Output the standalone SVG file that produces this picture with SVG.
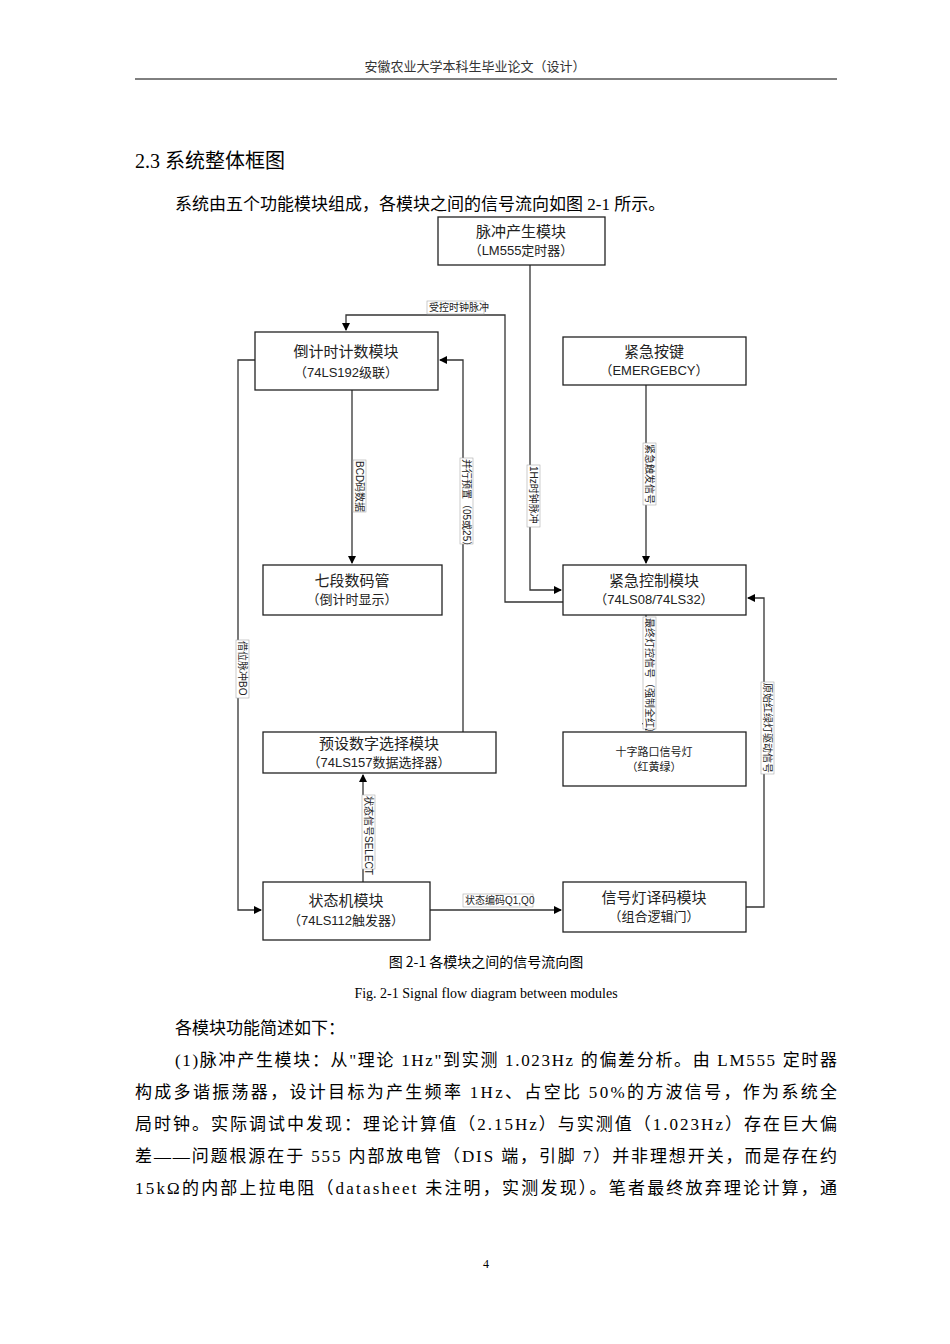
<svg xmlns="http://www.w3.org/2000/svg" width="950" height="1344" viewBox="0 0 950 1344">
<style>
.b{fill:#fff;stroke:#222;stroke-width:1.3}
.t{font-family:"Liberation Sans","Noto Sans CJK SC",sans-serif;font-size:15px;fill:#222;text-anchor:middle}
.s{font-family:"Liberation Sans","Noto Sans CJK SC",sans-serif;font-size:10px;fill:#222}
.l{fill:none;stroke:#333;stroke-width:1.3}
.lb{fill:#fff;stroke:#aaa;stroke-width:0.6}
.p{font-family:"Liberation Serif","Noto Sans CJK SC",serif;font-size:17px;fill:#000}
</style>
<defs><marker id="a" markerWidth="8" markerHeight="8" refX="7" refY="4" orient="auto" markerUnits="userSpaceOnUse"><path d="M0,0L8,4L0,8z" fill="#000"/></marker></defs>
<rect width="950" height="1344" fill="#fff"/>
<text x="475" y="71" text-anchor="middle" style="font-family:'Noto Sans CJK SC',sans-serif;font-size:13px;fill:#333">安徽农业大学本科生毕业论文（设计）</text>
<line x1="135" y1="79" x2="837" y2="79" stroke="#000" stroke-width="1"/>
<text x="135" y="168" style="font-family:'Liberation Serif','Noto Sans CJK SC',serif;font-size:20px;fill:#000">2.3 系统整体框图</text>
<text x="175" y="210" class="p">系统由五个功能模块组成，各模块之间的信号流向如图 2-1 所示。</text>
<g id="connectors">
<path class="l" d="M530,265V590H561" marker-end="url(#a)"/>
<path class="l" d="M563,602H505V315H346V330" marker-end="url(#a)"/>
<path class="l" d="M255,360H238V910H261" marker-end="url(#a)"/>
<path class="l" d="M352,390V563" marker-end="url(#a)"/>
<path class="l" d="M463,732V360H440" marker-end="url(#a)"/>
<path class="l" d="M363,882V775" marker-end="url(#a)"/>
<path class="l" d="M430,910H561" marker-end="url(#a)"/>
<path class="l" d="M646,385V563" marker-end="url(#a)"/>
<path class="l" d="M646,615V730" marker-end="url(#a)"/>
<path class="l" d="M746,907H764V598H748" marker-end="url(#a)"/>
<rect class="lb" x="427" y="301" width="57" height="13"/><text class="s" x="429" y="311">受控时钟脉冲</text>
<g transform="translate(532,465) rotate(90)"><rect class="lb" x="0" y="-8" width="62" height="13"/><text class="s" x="1" y="2">1Hz时钟脉冲</text></g>
<g transform="translate(358,460) rotate(90)"><rect class="lb" x="0" y="-8" width="52" height="13"/><text class="s" x="1" y="2">BCD码数据</text></g>
<g transform="translate(465,458) rotate(90)"><rect class="lb" x="0" y="-8" width="86" height="13"/><text class="s" x="1" y="2">并行预置（05或25）</text></g>
<g transform="translate(241,640) rotate(90)"><rect class="lb" x="0" y="-8" width="58" height="13"/><text class="s" x="1" y="2">借位脉冲BO</text></g>
<g transform="translate(367,795) rotate(90)"><rect class="lb" x="0" y="-8" width="74" height="13"/><text class="s" x="1" y="2">状态信号SELECT</text></g>
<rect class="lb" x="463" y="894" width="70" height="13"/><text class="s" x="465" y="904">状态编码Q1,Q0</text>
<g transform="translate(648,443) rotate(90)"><rect class="lb" x="0" y="-8" width="62" height="13"/><text class="s" x="1" y="2">紧急触发信号</text></g>
<g transform="translate(648,617) rotate(90)"><rect class="lb" x="0" y="-8" width="112" height="13"/><text class="s" x="1" y="2">最终灯控信号（强制全红）</text></g>
<g transform="translate(766,682) rotate(90)"><rect class="lb" x="0" y="-8" width="92" height="13"/><text class="s" x="1" y="2">原始红绿灯驱动信号</text></g>
</g>
<g id="pulse"><rect class="b" x="438" y="217" width="167" height="48"/><text class="t" x="521" y="237">脉冲产生模块</text><text class="t" x="521" y="255" style="font-size:13px">（LM555定时器）</text></g>
<g id="counter"><rect class="b" x="255" y="332" width="183" height="58"/><text class="t" x="346" y="357">倒计时计数模块</text><text class="t" x="346" y="377" style="font-size:13px">（74LS192级联）</text></g>
<g id="button"><rect class="b" x="563" y="337" width="183" height="48"/><text class="t" x="654" y="357">紧急按键</text><text class="t" x="654" y="375" style="font-size:13px">（EMERGEBCY）</text></g>
<g id="seg"><rect class="b" x="263" y="565" width="179" height="50"/><text class="t" x="352" y="586">七段数码管</text><text class="t" x="352" y="604" style="font-size:13px">（倒计时显示）</text></g>
<g id="emerg"><rect class="b" x="563" y="565" width="183" height="50"/><text class="t" x="654" y="586">紧急控制模块</text><text class="t" x="654" y="604" style="font-size:13px">（74LS08/74LS32）</text></g>
<g id="preset"><rect class="b" x="263" y="732" width="233" height="41"/><text class="t" x="379" y="749">预设数字选择模块</text><text class="t" x="379" y="767" style="font-size:13px">（74LS157数据选择器）</text></g>
<g id="lights"><rect class="b" x="563" y="732" width="183" height="54"/><text class="t" x="654" y="756" style="font-size:11px">十字路口信号灯</text><text class="t" x="654" y="771" style="font-size:11px">（红黄绿）</text></g>
<g id="fsm"><rect class="b" x="263" y="882" width="167" height="58"/><text class="t" x="346" y="906">状态机模块</text><text class="t" x="346" y="925" style="font-size:13px">（74LS112触发器）</text></g>
<g id="decoder"><rect class="b" x="563" y="882" width="183" height="50"/><text class="t" x="654" y="903">信号灯译码模块</text><text class="t" x="654" y="921" style="font-size:13px">（组合逻辑门）</text></g>
<text x="486" y="967" text-anchor="middle" style="font-family:'Noto Sans CJK SC',sans-serif;font-size:14px;fill:#000">图 2-1 各模块之间的信号流向图</text>
<text x="486" y="998" text-anchor="middle" style="font-family:'Liberation Serif',serif;font-size:14px;fill:#000">Fig. 2-1 Signal flow diagram between modules</text>
<text x="175" y="1034" class="p">各模块功能简述如下：</text>
<text x="175" y="1066" class="p" textLength="662">(1)脉冲产生模块：从"理论 1Hz"到实测 1.023Hz 的偏差分析。由 LM555 定时器</text>
<text x="135" y="1098" class="p" textLength="702">构成多谐振荡器，设计目标为产生频率 1Hz、占空比 50%的方波信号，作为系统全</text>
<text x="135" y="1130" class="p" textLength="702">局时钟。实际调试中发现：理论计算值（2.15Hz）与实测值（1.023Hz）存在巨大偏</text>
<text x="135" y="1162" class="p" textLength="702">差——问题根源在于 555 内部放电管（DIS 端，引脚 7）并非理想开关，而是存在约</text>
<text x="135" y="1194" class="p" textLength="702">15kΩ的内部上拉电阻（datasheet 未注明，实测发现）。笔者最终放弃理论计算，通</text>
<text x="486" y="1268" text-anchor="middle" style="font-family:'Liberation Serif',serif;font-size:12px">4</text>
</svg>
